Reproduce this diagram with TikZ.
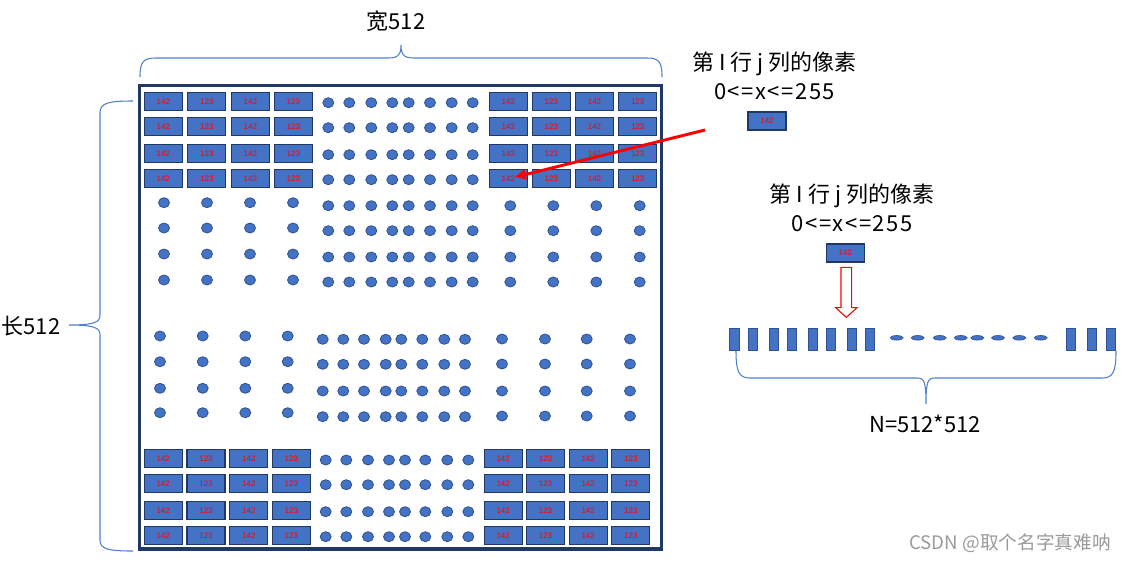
\documentclass[tikz,border=0pt]{standalone}
\usepackage{fontspec}
\setmainfont{Noto Sans CJK SC}
\newfontfamily\tinyfont{Liberation Sans}
\usetikzlibrary{shapes.geometric,arrows.meta,calc}
\definecolor{pixblue}{HTML}{4472C4}
\definecolor{pixedge}{HTML}{1F3864}
\definecolor{dotedge}{HTML}{2F528F}
\definecolor{framecol}{HTML}{1F3864}
\definecolor{bracecol}{HTML}{4F7FCF}
\definecolor{markgray}{HTML}{9A9A9A}
\tikzset{
  pix/.style={draw=pixedge, fill=pixblue, line width=0.8pt, minimum width=28.5pt, minimum height=13.5pt,
    inner sep=0pt, text=red, font=\tinyfont\fontsize{6}{6}\selectfont},
  pixdot/.style={ellipse, draw=dotedge, fill=pixblue, line width=0.6pt, minimum width=8.25pt, minimum height=7.5pt, inner sep=0pt},
  bar/.style={draw=dotedge, fill=pixblue, line width=0.6pt, minimum width=7pt, minimum height=16.5pt, inner sep=0pt},
  dashdot/.style={ellipse, draw=dotedge, fill=pixblue, line width=0.5pt, minimum width=9.75pt, minimum height=3.4pt, inner sep=0pt},
  brace/.style={draw=bracecol, line width=0.8pt},
  lbl/.style={font=\fontsize{16.5}{16.5}\selectfont, inner sep=0pt},
  vlbl/.style={font=\fontsize{16.5}{16.5}\selectfont\addfontfeature{LetterSpace=7}, inner sep=0pt},
}
\newcommand\rectgrid[3]{%
  \foreach \xx [count=\colidx] in {#2} {%
    \foreach \yy [count=\rowidx] in {#3} {%
      \node[pix] (#1-\rowidx-\colidx) at (\xx,\yy) {\ifodd\colidx\relax 142\else 123\fi};}}}
\newcommand\dotgrid[3]{%
  \foreach \xx [count=\colidx] in {#2} {%
    \foreach \yy [count=\rowidx] in {#3} {%
      \node[pixdot] (#1-\rowidx-\colidx) at (\xx,\yy) {};}}}
\begin{document}
\begin{tikzpicture}[x=0.75pt, y=-0.75pt]
\useasboundingbox (0,0) rectangle (1130,562);
% frame
\node[draw=framecol, line width=2.6pt, minimum width=391.8pt, minimum height=347.5pt, inner sep=0pt] (frame) at (400.5,317.35) {};
% rect blocks
\rectgrid{TL}{163.3,206.8,250.3,293.3}{101.3,126.3,153.3,178.3}
\rectgrid{TR}{508.3,551.3,594.5,637.7}{101.3,126.3,153.3,178.3}
\rectgrid{BL}{163.2,206,248.8,291.3}{458.3,483.3,510.3,535.3}
\rectgrid{BR}{503.2,545.5,588.2,630.8}{458.3,483.3,510.3,535.3}
% dot blocks
\dotgrid{TM}{328.3,349.3,371.3,392.3,408.7,430,451.7,472.7}{102.7,127.7,154.7,179.7,205.7,230.7,257,282}
\dotgrid{UL}{164,207,250,293}{202.7,228,254,280}
\dotgrid{UR}{510.3,553.3,596.3,639.7}{205.7,230.7,257,282}
\dotgrid{ML}{160,202.7,245.3,287.7}{336,361.7,388.3,412.7}
\dotgrid{MM}{322.7,343.3,364,385.7,401.3,422.3,444.3,465}{339.3,364.3,391,416.7}
\dotgrid{MR}{502,545,586.7,630}{339,364,391,416}
\dotgrid{BM}{325.7,346.3,368,389,405,425.3,447.3,468.3}{460,484.7,511.7,536.7}
% top brace
\draw[brace] (140,77) .. controls (140,62) and (143,58) .. (156,58) -- (388,58)
  .. controls (398,58) and (401,55) .. (401,45) .. controls (401,55) and (404,58) .. (414,58)
  -- (647,58) .. controls (659,58) and (662,62) .. (662,77);
\node[lbl] (wtext) at (396,21) {宽512};
% left brace
\draw[brace] (133,101) .. controls (108,101) and (100,103) .. (100,113) -- (100,315)
  .. controls (100,322) and (95,325) .. (69,325) .. controls (95,325) and (100,328) .. (100,335)
  -- (100,540) .. controls (100,549) and (108,551) .. (133,551);
\node[lbl] (htext) at (31,326) {长512};
% right top label
\node[lbl] (lab1) at (774.5,64) {第 I 行 j 列的像素};
\node[vlbl] (val1) at (774.5,92) {0<=x<=255};
\node[pix] (pix1) at (767,121) {142};
\coordinate (arrstart) at (705,130);
\draw[red, line width=2.2pt, -{Triangle[length=8pt,width=7.5pt]}] (arrstart) -- ($(TR-4-1.center)+(7,-1.3)$);
% second label
\node[lbl] (lab2) at (852,196) {第 I 行 j 列的像素};
\node[vlbl] (val2) at (852,224) {0<=x<=255};
\node[pix] (pix2) at (845.3,253) {142};
% hollow arrow
\draw[red, fill=white, line width=0.8pt] (841,267.3) -- (851.7,267.3) -- (851.7,307.7) -- (857,307.7)
  -- (846.3,317.3) -- (835.7,307.7) -- (841,307.7) -- cycle;
% flattened row
\foreach \xx [count=\ii] in {734.5,752.7,774,792,812.7,830.7,852,870,1071.2,1091.7,1110.7}
  \node[bar] (bar\ii) at (\xx,339.3) {};
\foreach \xx [count=\ii] in {896.7,917.7,939.7,960.7,977.3,998,1019.3,1040.7}
  \node[dashdot] (dash\ii) at (\xx,337.8) {};
% bottom brace
\draw[brace] (736,351) .. controls (736,372) and (739,378) .. (750,378) -- (917,378)
  .. controls (924,378) and (926,381) .. (926,404) .. controls (926,381) and (928,378) .. (935,378)
  -- (1102,378) .. controls (1113,378) and (1116,372) .. (1116,351);
\node[lbl] (ntext) at (925,424) {N=512*512};
% watermark
\node[font=\fontsize{14}{14}\selectfont, text=markgray, inner sep=0pt] (mark) at (1010,543) {CSDN @取个名字真难呐};
\end{tikzpicture}
\end{document}
